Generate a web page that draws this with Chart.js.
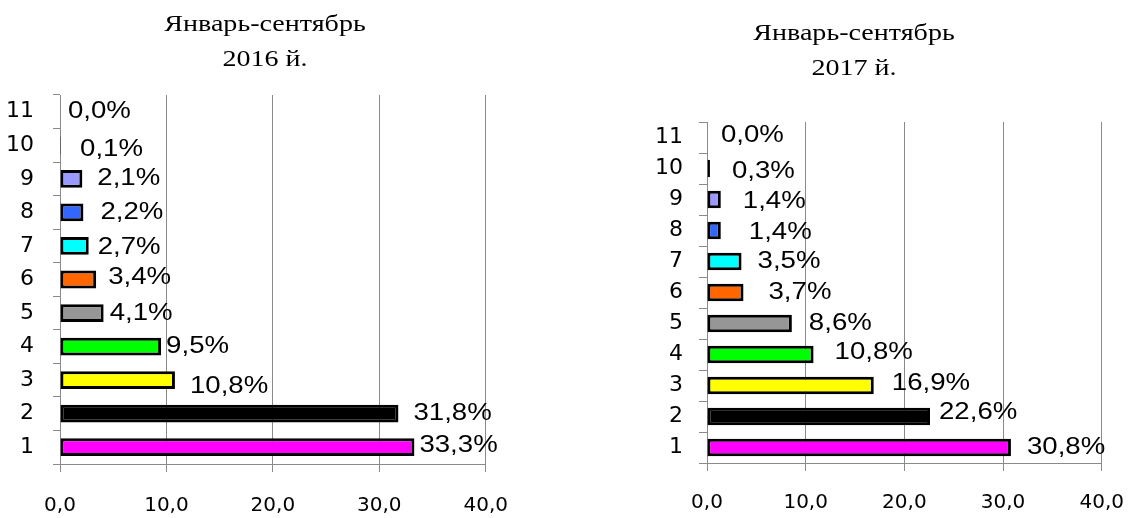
<!DOCTYPE html>
<html>
<head>
<meta charset="utf-8">
<script src="https://cdn.jsdelivr.net/npm/chart.js@4"></script>
<style>
  body { margin: 0; background: #fff; width: 1147px; height: 518px; overflow: hidden; position: relative; }
  #chart2016 { position: absolute; left: 0; top: 0; }
  #chart2017 { position: absolute; left: 564px; top: 0; }
</style>
</head>
<body>
<canvas id="chart2016" width="530" height="518"></canvas>
<canvas id="chart2017" width="580" height="518"></canvas>
<script>
// categories, bottom to top
var categories = ["1", "2", "3", "4", "5", "6", "7", "8", "9", "10", "11"];
var values2016 = [33.3, 31.8, 10.8, 9.5, 4.1, 3.4, 2.7, 2.2, 2.1, 0.1, 0.0];
var values2017 = [30.8, 22.6, 16.9, 10.8, 8.6, 3.7, 3.5, 1.4, 1.4, 0.3, 0.0];
var title2016 = ["Январь-сентябрь", "2016 й."];
var title2017 = ["Январь-сентябрь", "2017 й."];
var axisMin = 0, axisMax = 40, axisStep = 10;

var barColors = ["#FF00FF", "#000000", "#FFFF00", "#00FF00", "#969696",
                 "#FF6600", "#00FFFF", "#3366FF", "#9999FF", "#CC0000", "#FFFFFF"];

// label nudges (the labels in the picture were placed by hand)
var nudgeX2016 = [5, 15, 15, 5, 6, 12, 9, 17, 15, 19, 8];
var nudgeY2016 = [-2, 0, 6, 0, 0, -2, 1, 0, 0, 4, 0];
var nudgeX2017 = [16, 9, 18, 21, 17, 25, 16, 28, 22, 22, 14];
var nudgeY2017 = [0, -4, -2, -2, 0, 0, 0, 2, 2, 3, -2];

var gridGray = "#8a8a8a";

function fmt(v) {
  return v.toFixed(1).replace(".", ",");
}

// draws the two-line serif title, centred on the canvas
var titlePlugin = {
  id: "twoLineTitle",
  afterDraw: function (chart, args, opts) {
    var ctx = chart.ctx;
    ctx.save();
    ctx.fillStyle = "#000";
    ctx.font = '23px "Liberation Serif"';
    ctx.textAlign = "center";
    ctx.textBaseline = "middle";
    for (var i = 0; i < opts.lines.length; i++) {
      ctx.save();
      ctx.translate(chart.width / 2, opts.top + i * opts.gap);
      ctx.scale(1.22, 1);
      ctx.fillText(opts.lines[i], 0, 0);
      ctx.restore();
    }
    ctx.restore();
  }
};

// percent labels at the end of each bar
var valueLabels = {
  id: "valueLabels",
  afterDatasetsDraw: function (chart, args, opts) {
    var ctx = chart.ctx;
    var meta = chart.getDatasetMeta(0);
    var data = chart.data.datasets[0].data;
    ctx.save();
    ctx.fillStyle = "#000";
    ctx.font = '24px "Liberation Sans"';
    ctx.textAlign = "left";
    ctx.textBaseline = "middle";
    meta.data.forEach(function (bar, i) {
      ctx.save();
      ctx.translate(bar.x + opts.dx[i], bar.y + opts.dy[i]);
      ctx.scale(1.15, 1);
      ctx.fillText(fmt(data[i]) + "%", 0, 0);
      ctx.restore();
    });
    ctx.restore();
  }
};

function makeChart(id, values, title, titleTop, pad, yWidth, yTick, yPad, xPad, xHeight, barPct, dx, dy) {
  return new Chart(document.getElementById(id), {
    type: "bar",
    data: {
      labels: categories,
      datasets: [{
        data: values,
        backgroundColor: barColors,
        borderColor: "#000",
        borderWidth: 3,
        borderSkipped: false,
        barPercentage: barPct,
        categoryPercentage: 1
      }]
    },
    options: {
      indexAxis: "y",
      responsive: false,
      animation: false,
      layout: { padding: pad },
      scales: {
        x: {
          min: axisMin,
          max: axisMax,
          ticks: {
            stepSize: axisStep,
            padding: xPad,
            color: "#000",
            font: { family: "DejaVu Sans", size: 20 },
            callback: function (v) { return fmt(v); }
          },
          grid: { color: gridGray, tickColor: gridGray, tickLength: 8 },
          border: { color: gridGray },
          afterFit: function (s) { s.height = xHeight; }
        },
        y: {
          reverse: true,
          ticks: {
            padding: yPad,
            color: "#000",
            font: { family: "DejaVu Sans", size: 22 }
          },
          grid: { offset: true, drawOnChartArea: false, color: gridGray, tickLength: yTick },
          border: { color: gridGray },
          afterFit: function (s) { s.width = yWidth; }
        }
      },
      plugins: {
        legend: { display: false },
        tooltip: { enabled: false },
        twoLineTitle: { lines: title, top: titleTop, gap: 35 },
        valueLabels: { dx: dx, dy: dy }
      }
    },
    plugins: [titlePlugin, valueLabels]
  });
}

makeChart("chart2016", values2016, title2016, 25,
  { top: 95, right: 44, left: 0, bottom: 0 }, 60, 7, 19, 22, 54, 0.53, nudgeX2016, nudgeY2016);
makeChart("chart2017", values2017, title2017, 34,
  { top: 122, right: 22, left: 0, bottom: 0 }, 143, 8, 16, 20, 55, 0.57, nudgeX2017, nudgeY2017);
</script>
</body>
</html>
